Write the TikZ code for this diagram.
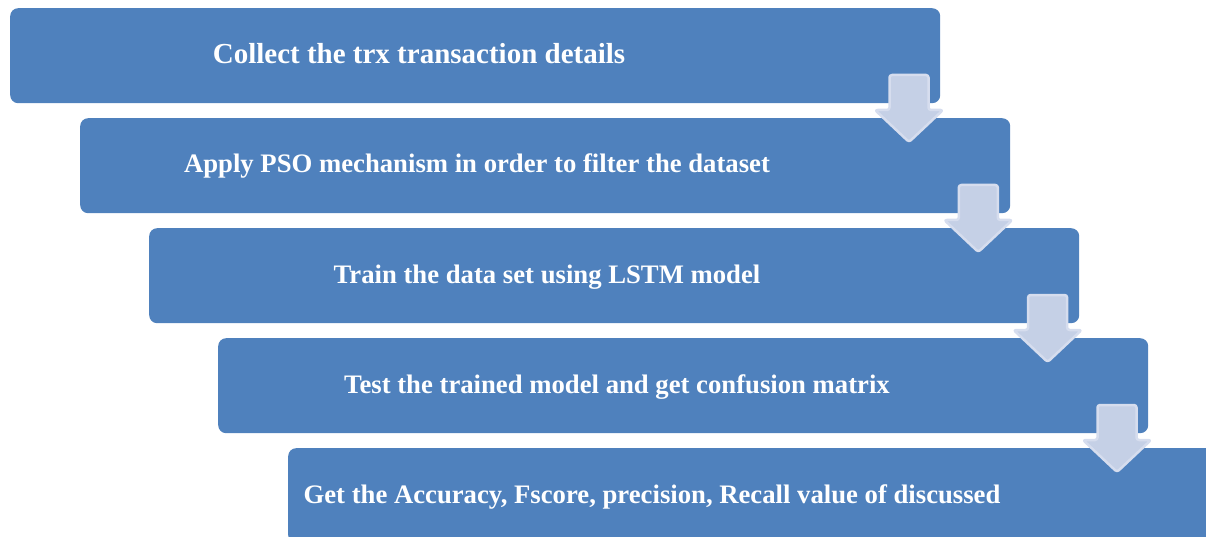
\documentclass[tikz,border=0pt]{standalone}
\usepackage{fontspec}
\setmainfont{Liberation Serif}
\definecolor{boxblue}{HTML}{4F81BD}
\definecolor{arrowfill}{HTML}{C5D0E6}
\definecolor{arrowedge}{HTML}{D6DDEE}
\tikzset{
  stepbox/.style={draw=none, fill=boxblue, rounded corners=8pt, minimum width=930pt, minimum height=95pt, inner sep=0pt, anchor=north west},
  steptext/.style={text=white, font=\fontsize{26.7}{30}\selectfont\bfseries, inner sep=0pt, anchor=base},
  downarrow/.style={fill=arrowfill, draw=arrowedge, line width=2.5pt, rounded corners=2.5pt, line join=round}
}
\newcommand{\downarr}[2]{% center x, top y
  \draw[downarrow] (#1-19.5,#2) -- (#1+19.5,#2) -- (#1+19.5,#2+35) -- (#1+34,#2+35) -- (#1,#2+67) -- (#1-34,#2+35) -- (#1-19.5,#2+35) -- cycle;
}
\begin{document}
\begin{tikzpicture}[x=1pt,y=-1pt]
\useasboundingbox (0,0) rectangle (1206,537);
\clip (0,0) rectangle (1206,537);
\node[stepbox] (b1) at (10,8) {};
\node[stepbox] (b2) at (80,118) {};
\node[stepbox] (b3) at (149,228) {};
\node[stepbox] (b4) at (218,338) {};
\node[stepbox] (b5) at (288,448) {};
\node[steptext, font=\fontsize{29}{33}\selectfont\bfseries] (t1) at (419,63.3) {Collect the trx transaction details};
\node[steptext] (t2) at (477,172.5) {Apply PSO mechanism in order to filter the dataset};
\node[steptext] (t3) at (547,283.3) {Train the data set using LSTM model};
\node[steptext] (t4) at (617,393.3) {Test the trained model and get confusion matrix};
\node[steptext] (t5) at (652,503.3) {Get the Accuracy, Fscore, precision, Recall value of discussed};
\downarr{909}{75}
\downarr{978.3}{185}
\downarr{1047.6}{295}
\downarr{1117}{405}
\end{tikzpicture}
\end{document}
